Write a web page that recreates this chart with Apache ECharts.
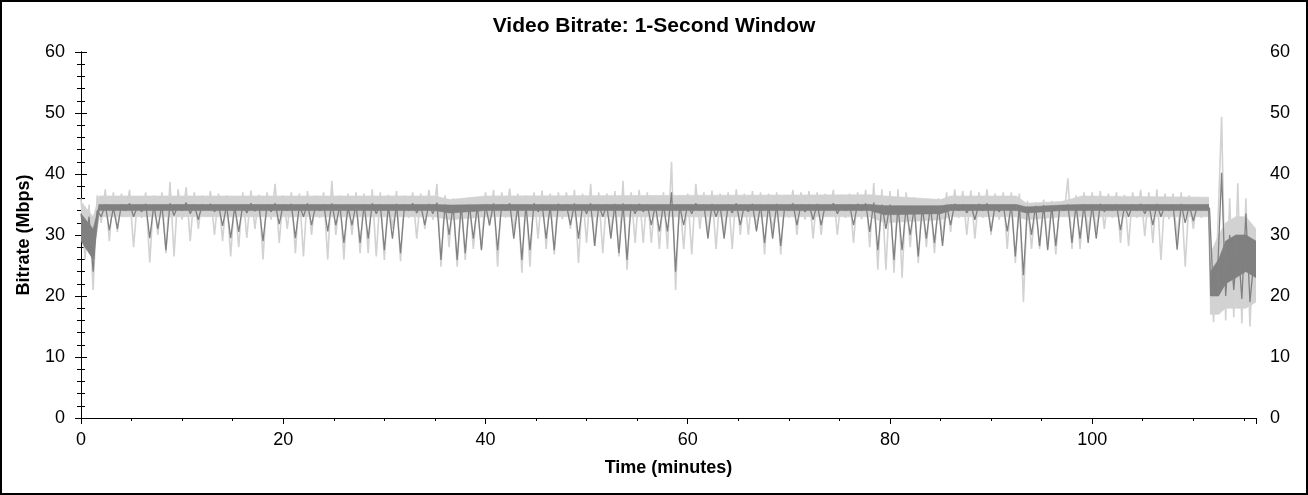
<!DOCTYPE html>
<html>
<head>
<meta charset="utf-8">
<title>Video Bitrate</title>
<script src="https://cdn.jsdelivr.net/npm/echarts/dist/echarts.min.js"></script>
<style>
  html, body { margin: 0; padding: 0; background: #fff; }
  #chart { width: 1308px; height: 495px; }
</style>
</head>
<body>
<div id="chart"></div>
<script>
// one sample every 0.4 minutes (high / low alternating)
var TIME_STEP = 0.4;

// light grey trace
var lightRate = [
    36, 26, 35, 21, 36.5, 32, 37.5, 29, 37, 30.5,
    36.8, 33, 37.4, 28, 36.2, 32.8, 37, 25.5, 36.5, 30,
    37, 27, 38.7, 26.5, 37.5, 32.5, 37.8, 29, 37, 31,
    36.5, 33, 37.2, 30, 36.8, 29, 36.5, 26.5, 36, 28,
    37, 29.5, 37.3, 31, 36.6, 26, 37, 32.5, 38.4, 28.7,
    36.5, 31, 37, 27, 36.8, 26.5, 37.2, 30, 36.5, 32.8,
    37, 26, 38.9, 30, 36.5, 26, 36.8, 30, 37, 27,
    36.8, 27, 37.5, 26.5, 37, 25.9, 36.6, 31, 37.2, 25.7,
    36.5, 32.8, 37, 29.4, 36.8, 31, 37.4, 32.5, 38.4, 24.8,
    36.5, 28, 36, 24.8, 35.8, 25.9, 36.2, 27.7, 35.6, 27.7,
    37, 31.5, 37.4, 24.8, 37, 32.8, 37.6, 30.5, 36.8, 23.8,
    36.5, 24.8, 37, 29.4, 37.3, 27.7, 36.8, 26.8, 37, 32.6,
    37, 31, 37.4, 25.4, 36.8, 28.7, 38.4, 28.2, 37, 27,
    36.8, 30, 37.2, 26.5, 38.9, 24.3, 37, 28.7, 37.4, 28.7,
    37, 28.7, 36.5, 27.7, 37, 27.7, 42, 21, 36.5, 27.7,
    36.8, 26.8, 38.4, 31, 37, 30, 37.3, 27.7, 36.8, 30,
    37, 27.7, 37.5, 30, 36.8, 30, 37.2, 31, 37, 26.8,
    36.8, 30.5, 37, 26.8, 36.5, 32.8, 37.4, 30, 37, 32.5,
    37.2, 29.4, 37, 30, 36.8, 33, 37.4, 30, 36.6, 32.8,
    36.8, 28.7, 37, 32.6, 37.4, 28, 38.5, 24.3, 37.5, 24.3,
    37.2, 23.8, 37.5, 23, 37, 28, 36.2, 25.4, 36, 28,
    35.8, 27, 36, 29, 37, 30.5, 37.5, 32.8, 37.2, 30,
    37.3, 29.4, 37, 32.8, 37.5, 30, 36.8, 32.5, 37, 27.7,
    37, 25.4, 36.8, 19, 35.6, 27.7, 35.4, 27.7, 35.8, 28,
    35.6, 26.8, 35.4, 33, 39.3, 27.7, 36.5, 27.7, 37, 30,
    37, 30, 37.2, 31, 36.8, 32.8, 37, 28.7, 36.6, 28.2,
    37, 32.8, 37.4, 29.8, 37, 28.7, 37.5, 25.9, 36.8, 32.6,
    36.8, 29, 37, 24.8, 36.5, 31, 36.2, 32.8, 36, 33,
    15.7, 30, 49.4, 16, 36, 16.5, 38.5, 15.5, 36, 15,
    30
];

// dark grey trace
var darkRate = [
    33.5, 28, 33, 24, 34, 33, 35, 30.8, 34.5, 31,
    35, 34, 35.2, 33, 34.8, 33.8, 35.1, 29.5, 34.9, 31,
    35, 27.5, 35.2, 33.2, 35, 34, 35.3, 33.5, 35, 32.5,
    35, 34.2, 35.1, 33.8, 34.9, 31.5, 34.8, 29.5, 34.6, 30.5,
    35, 33.6, 35.2, 33.9, 34.9, 29, 35, 33.8, 35.2, 31.8,
    35, 34, 35.1, 29.5, 34.9, 33, 35.2, 31.6, 34.8, 34,
    35, 30.6, 35.2, 31.6, 34.8, 28.7, 34.6, 31.6, 35, 28.7,
    35, 29.4, 35.2, 33.5, 35, 27.5, 34.8, 29.4, 35.1, 27,
    35, 34, 35.2, 33.6, 34.9, 31.6, 35.1, 33.5, 35.3, 25.9,
    35, 30, 34.8, 25.9, 34.9, 27, 35, 29.4, 34.8, 27.5,
    35, 31.6, 35.2, 27.5, 35, 34, 35.2, 29.4, 34.9, 25.9,
    35, 27.5, 35.2, 33.8, 35, 29.4, 34.8, 27.5, 35.1, 34,
    35, 31.6, 35.2, 29.4, 34.9, 33.5, 35.2, 28.2, 35, 33,
    35, 29.4, 35.1, 27, 35.2, 25.9, 35, 33.5, 35.1, 33.8,
    35, 31.6, 34.9, 30.6, 35, 30.6, 37, 24, 34.8, 31.6,
    35, 33.5, 35.2, 34, 35, 29.4, 35.1, 33, 34.9, 29.4,
    35, 33.6, 35.2, 31.6, 34.9, 33.8, 35.1, 30.6, 35, 28.7,
    35, 29.4, 35.1, 28.2, 34.8, 34, 35.2, 31.6, 35, 33.8,
    35, 32.5, 35.1, 31.6, 34.9, 34.2, 35.2, 33.5, 34.9, 34,
    35, 31.6, 35.1, 34, 35.2, 30.5, 35.3, 27.5, 35, 31,
    35, 25.9, 34.8, 27.5, 34.6, 30, 34.5, 26.5, 34.6, 29.4,
    34.8, 28.7, 34.7, 28.2, 35, 31.6, 35.1, 34, 35, 33.6,
    35, 32.5, 35.1, 34, 35.2, 30.6, 34.9, 33.8, 35, 30.6,
    35, 26.5, 34.9, 23.4, 34.7, 30, 34.8, 28.2, 34.9, 27.5,
    34.8, 28.2, 34.7, 34, 35, 28.7, 34.9, 29.4, 35, 28.7,
    35, 29.4, 35.1, 33.8, 34.9, 34, 35, 30.8, 34.8, 33,
    35, 34, 35.1, 33.5, 35, 31.6, 35.1, 33, 34.9, 34,
    35, 27.6, 35.1, 32, 34.9, 32.3, 34.8, 34.1, 34.9, 34.4,
    20, 24, 40.2, 20, 30, 21, 29, 19.5, 33.5, 19,
    26
];

// solid body of each trace (where the 1-second samples fill the column)
var bandTimes = [0, 1.2, 1.8, 35, 36.5, 40, 78, 79.5, 85, 86, 92.5, 93.5, 97, 99, 111.5, 111.7, 112.5, 113.2, 114.2, 115.2, 116.2];
var lightLow  = [30, 26, 33, 33, 32.5, 33, 33, 32, 32.5, 33, 33, 32.5, 33, 33, 33, 17, 17, 18, 18, 18, 19];
var lightHigh = [35.5, 33, 36.4, 36.4, 35.8, 36.4, 36.6, 36.4, 35.8, 36.4, 36.4, 35.2, 35.5, 36.4, 36.2, 27, 30, 32, 33, 33, 31];
var darkLow   = [29, 26, 34, 34, 33.6, 34, 34, 33.3, 33.5, 34, 34, 33.6, 34, 34, 34, 20, 20, 22, 23, 24, 23];
var darkHigh  = [33.5, 31, 35, 35, 34.9, 35, 35, 34.8, 34.8, 35, 35, 34.6, 34.9, 35, 35, 24, 26, 29, 30, 30, 29];

var xMax = 116.2;
var yMax = 60;

var LIGHT = '#d2d2d2';
var DARK = '#808080';

function withTime(values) {
    return values.map(function (v, i) { return [i * TIME_STEP, v]; });
}

function bandData(low, high) {
    return bandTimes.map(function (t, i) { return [t, low[i], high[i]]; });
}

// fill between the low and high edge, one quad per knot interval
function bandRenderer(low, high, color) {
    return function (params, api) {
        var i = params.dataIndex;
        if (i >= bandTimes.length - 1) {
            return null;
        }
        var pts = [
            api.coord([bandTimes[i], high[i]]),
            api.coord([bandTimes[i + 1], high[i + 1]]),
            api.coord([bandTimes[i + 1], low[i + 1]]),
            api.coord([bandTimes[i], low[i]])
        ];
        return {
            type: 'polygon',
            shape: { points: pts },
            style: { fill: color, stroke: color, lineWidth: 0.6 }
        };
    };
}

var axisFont = 'Liberation Sans, Arial, sans-serif';

var myChart = echarts.init(document.getElementById('chart'));
var option = {
    animation: false,
    backgroundColor: '#fff',
    title: {
        text: 'Video Bitrate: 1-Second Window',
        left: 'center',
        top: 11,
        textStyle: { fontFamily: axisFont, fontSize: 21, fontWeight: 'bold', color: '#000' }
    },
    grid: { left: 81, right: 52, top: 52, bottom: 77 },
    graphic: [{
        type: 'rect',
        shape: { x: 1, y: 1, width: 1306, height: 493 },
        style: { fill: 'none', stroke: '#000', lineWidth: 2 },
        silent: true
    }],
    xAxis: [
        {
            type: 'value',
            min: 0,
            max: xMax,
            interval: 20,
            name: 'Time (minutes)',
            nameLocation: 'middle',
            nameGap: 41,
            nameTextStyle: { fontFamily: axisFont, fontSize: 18, fontWeight: 'bold', color: '#000' },
            axisLine: { lineStyle: { color: '#000', width: 1 } },
            axisTick: { length: 6, lineStyle: { color: '#000' } },
            minorTick: { show: true, splitNumber: 4, length: 3, lineStyle: { color: '#000' } },
            splitLine: { show: false },
            axisLabel: { fontFamily: axisFont, fontSize: 18, color: '#000', margin: 13, showMaxLabel: false }
        },
        {
            type: 'value',
            position: 'top',
            min: 0,
            max: xMax,
            interval: 20,
            axisLine: { lineStyle: { color: '#000', width: 1 } },
            axisTick: { inside: true, length: 6, lineStyle: { color: '#000' } },
            minorTick: { show: true, splitNumber: 4, length: 3, lineStyle: { color: '#000' } },
            splitLine: { show: false },
            axisLabel: { show: false }
        }
    ],
    yAxis: [
        {
            type: 'value',
            min: 0,
            max: yMax,
            interval: 10,
            name: 'Bitrate (Mbps)',
            nameLocation: 'middle',
            nameGap: 48,
            nameTextStyle: { fontFamily: axisFont, fontSize: 18, fontWeight: 'bold', color: '#000' },
            axisLine: { show: true, lineStyle: { color: '#000', width: 1 } },
            axisTick: { show: true, length: 6, lineStyle: { color: '#000' } },
            minorTick: { show: true, splitNumber: 5, length: 4, lineStyle: { color: '#000' } },
            splitLine: { show: false },
            axisLabel: { fontFamily: axisFont, fontSize: 18, color: '#000', margin: 16 }
        },
        {
            type: 'value',
            position: 'right',
            min: 0,
            max: yMax,
            interval: 10,
            axisLine: { show: true, lineStyle: { color: '#000', width: 1 } },
            axisTick: { show: true, length: 6, lineStyle: { color: '#000' } },
            minorTick: { show: true, splitNumber: 5, length: 4, lineStyle: { color: '#000' } },
            splitLine: { show: false },
            axisLabel: { fontFamily: axisFont, fontSize: 18, color: '#000', margin: 14 }
        }
    ],
    series: [
        {
            name: 'lightBody',
            type: 'custom',
            renderItem: bandRenderer(lightLow, lightHigh, LIGHT),
            data: bandData(lightLow, lightHigh),
            encode: { x: 0, y: [1, 2] },
            clip: true,
            silent: true,
            z: 1
        },
        {
            name: 'light',
            type: 'line',
            data: withTime(lightRate),
            showSymbol: false,
            lineStyle: { color: LIGHT, width: 1.6 },
            z: 2
        },
        {
            name: 'darkBody',
            type: 'custom',
            renderItem: bandRenderer(darkLow, darkHigh, DARK),
            data: bandData(darkLow, darkHigh),
            encode: { x: 0, y: [1, 2] },
            clip: true,
            silent: true,
            z: 3
        },
        {
            name: 'dark',
            type: 'line',
            data: withTime(darkRate),
            showSymbol: false,
            lineStyle: { color: DARK, width: 1.3 },
            z: 4
        }
    ]
};

myChart.setOption(option);
</script>
</body>
</html>
